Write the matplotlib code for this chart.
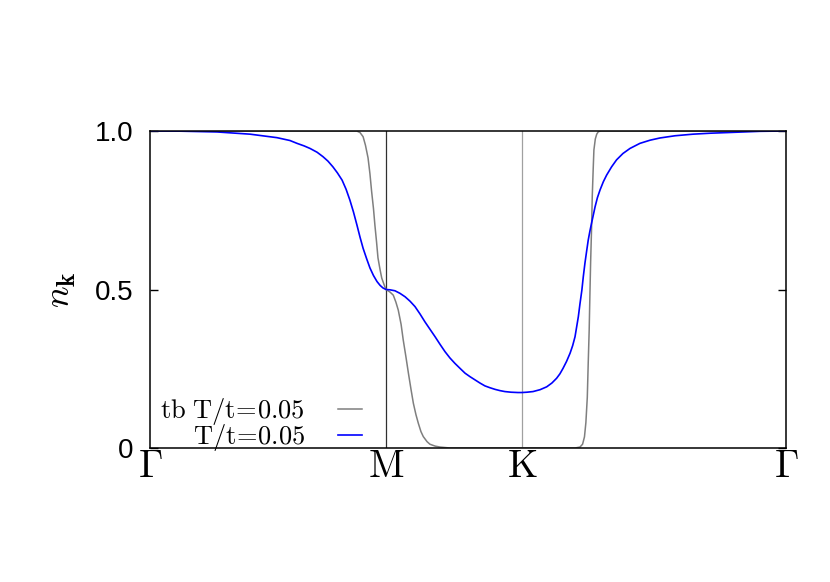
import numpy as np
import matplotlib
matplotlib.use("Agg")
import matplotlib.pyplot as plt

plt.rcParams['mathtext.fontset'] = 'cm'
plt.rcParams['font.family'] = ['Liberation Sans', 'DejaVu Sans']

# high-symmetry points along the path (path length, Gamma-M = 1)
sym_k = [0.0, 1.0, 1.576, 2.695]
sym_labels = [r'$\Gamma$', r'$\mathrm{M}$', r'$\mathrm{K}$', r'$\Gamma$']

# tight-binding occupation, T/t=0.05
k_tb = [0.000, 0.805, 0.876, 0.890, 0.903, 0.913, 0.924, 0.932, 0.939, 0.947,
        0.953, 0.960, 0.966, 0.975, 0.982, 0.992, 1.000, 1.017, 1.031, 1.042,
        1.052, 1.064, 1.073, 1.085, 1.095, 1.106, 1.116, 1.127, 1.137, 1.148,
        1.158, 1.174, 1.186, 1.208, 1.229, 1.271, 1.801, 1.822, 1.833, 1.841,
        1.847, 1.853, 1.857, 1.861, 1.864, 1.867, 1.871, 1.874, 1.878, 1.881,
        1.887, 1.893, 1.900, 1.911, 2.695]
n_tb = [1.000, 1.000, 1.000, 0.995, 0.982, 0.955, 0.915, 0.865, 0.810, 0.755,
        0.703, 0.650, 0.600, 0.562, 0.536, 0.515, 0.500, 0.492, 0.482, 0.460,
        0.435, 0.390, 0.341, 0.285, 0.236, 0.185, 0.141, 0.105, 0.078, 0.052,
        0.036, 0.020, 0.012, 0.006, 0.003, 0.000, 0.000, 0.003, 0.012, 0.035,
        0.080, 0.160, 0.270, 0.372, 0.480, 0.583, 0.690, 0.793, 0.880, 0.940,
        0.975, 0.990, 0.998, 1.000, 1.000]

# interacting occupation, T/t=0.05
k_int = [0.000, 0.127, 0.284, 0.424, 0.538, 0.593, 0.623, 0.653, 0.678, 0.708,
         0.733, 0.754, 0.775, 0.794, 0.814, 0.831, 0.847, 0.862, 0.877, 0.890,
         0.903, 0.918, 0.932, 0.947, 0.962, 0.975, 0.987, 1.000, 1.017, 1.038,
         1.059, 1.081, 1.102, 1.123, 1.144, 1.165, 1.186, 1.208, 1.229, 1.250,
         1.271, 1.292, 1.314, 1.335, 1.356, 1.377, 1.398, 1.419, 1.441, 1.462,
         1.483, 1.504, 1.530, 1.559, 1.576, 1.597, 1.623, 1.653, 1.681, 1.703,
         1.723, 1.737, 1.750, 1.765, 1.780, 1.791, 1.801, 1.815, 1.822, 1.830,
         1.836, 1.843, 1.850, 1.857, 1.864, 1.871, 1.886, 1.896, 1.907, 1.921,
         1.935, 1.956, 1.977, 2.004, 2.034, 2.076, 2.119, 2.161, 2.225, 2.301,
         2.373, 2.445, 2.585, 2.695]
n_int = [1.000, 0.9995, 0.997, 0.990, 0.979, 0.970, 0.961, 0.953, 0.945, 0.933,
         0.919, 0.905, 0.887, 0.868, 0.845, 0.816, 0.782, 0.745, 0.703, 0.665,
         0.630, 0.597, 0.568, 0.544, 0.525, 0.513, 0.505, 0.500, 0.499, 0.496,
         0.488, 0.477, 0.463, 0.446, 0.423, 0.398, 0.375, 0.351, 0.327, 0.304,
         0.284, 0.267, 0.251, 0.236, 0.225, 0.215, 0.205, 0.196, 0.190, 0.185,
         0.181, 0.178, 0.176, 0.175, 0.175, 0.176, 0.178, 0.184, 0.193, 0.205,
         0.220, 0.234, 0.251, 0.273, 0.299, 0.323, 0.351, 0.414, 0.455, 0.498,
         0.540, 0.583, 0.620, 0.656, 0.684, 0.709, 0.761, 0.790, 0.814, 0.840,
         0.861, 0.887, 0.909, 0.929, 0.945, 0.961, 0.971, 0.978, 0.985, 0.990,
         0.993, 0.995, 0.999, 1.000]

fig = plt.figure(figsize=(8.3, 5.82), dpi=100)
ax = fig.add_axes([150/830, 1 - 448/582, 636/830, 317/582])

ax.axvline(sym_k[1], color='#303030', lw=0.9, zorder=1)
ax.axvline(sym_k[2], color='#a0a0a0', lw=0.9, zorder=1)

ax.plot(k_tb, n_tb, color='#7f7f7f', lw=1.1, label=r'$\mathrm{tb\ T/t}\!=\!\mathrm{0.05}$')
ax.plot(k_int, n_int, color='#0000ff', lw=1.2, label=r'$\mathrm{T/t}\!=\!\mathrm{0.05}$')

ax.set_xlim(sym_k[0], sym_k[-1])
ax.set_ylim(0, 1)
ax.set_xticks(sym_k)
ax.set_xticklabels(sym_labels, fontsize=28)
ax.tick_params(axis='x', length=0, pad=1)
ax.set_yticks([0, 0.5, 1.0])
ax.set_yticklabels(['0', '0.5', '1.0'], fontsize=20)
ax.tick_params(axis='y', direction='in', length=6, width=1, right=True, pad=12)
for s in ax.spines.values():
    s.set_linewidth(1.1)

ax.set_ylabel(r'$n_{\mathbf{k}}$', fontsize=26, labelpad=12)

leg = ax.legend(loc='lower left', bbox_to_anchor=(0.016, -0.016), frameon=False,
                markerfirst=False, fontsize=19, handlelength=0.9,
                handletextpad=1.25, labelspacing=-0.18, borderaxespad=0.0,
                borderpad=0.0)

fig.savefig('out.png', dpi=100)
